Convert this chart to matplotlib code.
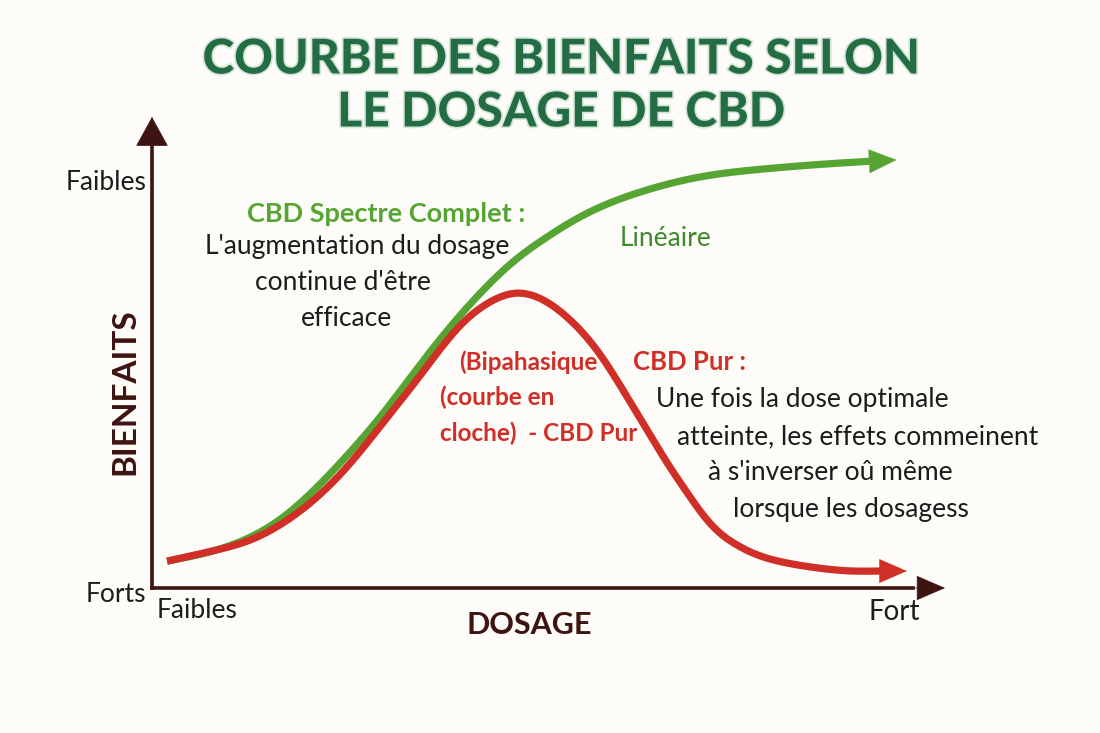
import matplotlib
matplotlib.use("Agg")
import matplotlib.pyplot as plt
import matplotlib.patheffects as pe
from matplotlib.patches import FancyArrowPatch
import numpy as np

# ---- data (dosage 0-100, benefit 0-100) ----
spectre_x = [1.9, 8.2, 12.4, 16.5, 20.8, 25.0, 29.1, 32.9, 37.2, 41.4, 45.5, 49.8, 54.0, 58.1,
             62.4, 69.2, 76.7, 90.5, 93.9]
spectre_y = [5.7, 8.1, 10.8, 15.0, 21.4, 28.9, 37.0, 45.4, 54.6, 62.6, 69.2, 74.5, 78.8, 82.0,
             84.5, 87.3, 88.9, 90.6, 90.9]
pur_x = [1.9, 8.2, 12.4, 16.5, 20.8, 25.0, 29.1, 33.4, 39.2, 42.6, 46.0, 49.8, 53.1, 56.1, 59.4,
         63.2, 65.3, 67.5, 69.5, 71.6, 73.8, 75.8, 80.1, 84.2, 88.4, 91.8, 95.2]
pur_y = [5.7, 8.1, 10.2, 13.8, 19.3, 26.5, 35.0, 44.2, 56.3, 60.7, 62.6, 60.7, 56.3, 50.5, 42.0,
         31.4, 25.7, 20.2, 15.5, 11.7, 9.1, 7.4, 5.3, 4.2, 3.6, 3.6, 3.6]

title = "COURBE DES BIENFAITS SELON\nLE DOSAGE DE CBD"
y_label = "BIENFAITS"
x_label = "DOSAGE"
y_ticks = ["Forts", "Faibles"]
x_ticks = ["Faibles", "Fort"]

BG = "#fdfcf8"
AXC = "#3d1411"
GREEN = "#56a533"
RED = "#d02f28"
TXT = "#1c1c1c"

W, H = 1100, 733
fig = plt.figure(figsize=(11, 7.33), dpi=100, facecolor=BG)

L, R, B, T = 152, 945, 588, 117
ax = fig.add_axes([L / W, 1 - B / H, (R - L) / W, (B - T) / H])
ax.set_xlim(0, 100)
ax.set_ylim(0, 100)
ax.set_facecolor("none")
ax.axis("off")


def natural_spline(xs, ys, n=600):
    x = np.asarray(xs, float)
    y = np.asarray(ys, float)
    m = len(x)
    h = np.diff(x)
    A = np.zeros((m, m))
    rhs = np.zeros(m)
    A[0, 0] = A[-1, -1] = 1
    for i in range(1, m - 1):
        A[i, i - 1] = h[i - 1]
        A[i, i] = 2 * (h[i - 1] + h[i])
        A[i, i + 1] = h[i]
        rhs[i] = 6 * ((y[i + 1] - y[i]) / h[i] - (y[i] - y[i - 1]) / h[i - 1])
    M = np.linalg.solve(A, rhs)
    xx = np.linspace(x[0], x[-1], n)
    idx = np.clip(np.searchsorted(x, xx) - 1, 0, m - 2)
    x0, x1 = x[idx], x[idx + 1]
    hh = x1 - x0
    a = (x1 - xx) / hh
    b = (xx - x0) / hh
    yy = a * y[idx] + b * y[idx + 1] + ((a ** 3 - a) * M[idx] + (b ** 3 - b) * M[idx + 1]) * hh ** 2 / 6
    return xx, yy


# axes arrows
ax.plot([0, 0], [0, 95], color=AXC, lw=2.6, solid_capstyle="projecting", clip_on=False)
ax.plot([0, 96], [0, 0], color=AXC, lw=2.6, solid_capstyle="projecting", clip_on=False)
ax.add_patch(FancyArrowPatch((0, 92), (0, 100), arrowstyle="-|>,head_length=1.0,head_width=0.55",
                             mutation_scale=20, color=AXC, lw=0.5, shrinkA=0, shrinkB=0, clip_on=False))
ax.add_patch(FancyArrowPatch((95, 0), (100, 0), arrowstyle="-|>,head_length=0.97,head_width=0.42",
                             mutation_scale=20, color=AXC, lw=0.5, shrinkA=0, shrinkB=0, clip_on=False))

for xs, ys, col, z in [(spectre_x, spectre_y, GREEN, 3), (pur_x, pur_y, RED, 4)]:
    sx, sy = natural_spline(xs, ys)
    tipx, tipy = sx[-1], sy[-1]
    keep = sx <= tipx - 3.0
    ax.plot(sx[keep], sy[keep], color=col, lw=5.2, solid_capstyle="butt", zorder=z)
    base = np.searchsorted(sx, tipx - 3.4)
    ax.add_patch(FancyArrowPatch((sx[base], sy[base]), (tipx, tipy),
                                 arrowstyle="-|>,head_length=0.97,head_width=0.42",
                                 mutation_scale=20, color=col, lw=0.3, shrinkA=0, shrinkB=0,
                                 zorder=z))

ff = ["Lato", "DejaVu Sans"]

# title
fig.text(561 / W, 1 - 86 / H, title, ha="center", va="center", fontsize=34.5, fontweight="black",
         family=["Lato", "DejaVu Sans"], color="#246c44", linespacing=1.25,
         path_effects=[pe.withStroke(linewidth=2.5, foreground="#d6e6d8")])

# axis labels
fig.text(125 / W, 1 - 392 / H, y_label, rotation=90, ha="center", va="center", fontsize=24,
         fontweight="bold", family=ff, color=AXC)
fig.text(529 / W, 1 - 625 / H, x_label, ha="center", va="center", fontsize=22,
         fontweight="bold", family=ff, color=AXC)
fig.text(146 / W, 1 - 594 / H, y_ticks[0], ha="right", va="center", fontsize=19, family=ff, color=TXT)
fig.text(146 / W, 1 - 183 / H, y_ticks[1], ha="right", va="center", fontsize=19, family=ff, color=TXT)
fig.text(157 / W, 1 - 611 / H, x_ticks[0], ha="left", va="center", fontsize=19, family=ff, color=TXT)
fig.text(894 / W, 1 - 612 / H, x_ticks[1], ha="center", va="center", fontsize=20, family=ff, color=TXT)

# annotations
fig.text(386 / W, 1 - 214 / H, "CBD Spectre Complet :", ha="center", va="center", fontsize=19.5,
         fontweight="bold", family=ff, color=GREEN)
for txt, cx, cy in [("L'augmentation du dosage", 357, 247),
                    ("continue d'être", 343, 283),
                    ("efficace", 346, 318)]:
    fig.text(cx / W, 1 - cy / H, txt, ha="center", va="center", fontsize=19, family=ff, color=TXT)
fig.text(665 / W, 1 - 238 / H, "Linéaire", ha="center", va="center", fontsize=19, family=ff,
         color="#3d8b2c")
fig.text(528 / W, 1 - 362 / H, "(Bipahasique", ha="center", va="center", fontsize=17.5,
         fontweight="bold", family=ff, color=RED)
fig.text(440 / W, 1 - 397 / H, "(courbe en", ha="left", va="center", fontsize=17.5,
         fontweight="bold", family=ff, color=RED)
fig.text(440 / W, 1 - 433 / H, "cloche)  - CBD Pur", ha="left", va="center", fontsize=17.5,
         fontweight="bold", family=ff, color=RED)
fig.text(633 / W, 1 - 362 / H, "CBD Pur :", ha="left", va="center", fontsize=18.5,
         fontweight="bold", family=ff, color=RED)
for txt, cx, cy in [("Une fois la dose optimale", 802, 400),
                    ("atteinte, les effets commeinent", 858, 437),
                    ("à s'inverser oû même", 830, 473),
                    ("lorsque les dosagess", 851, 510)]:
    fig.text(cx / W, 1 - cy / H, txt, ha="center", va="center", fontsize=19, family=ff, color=TXT)

fig.savefig("out.png", dpi=100, facecolor=BG)
